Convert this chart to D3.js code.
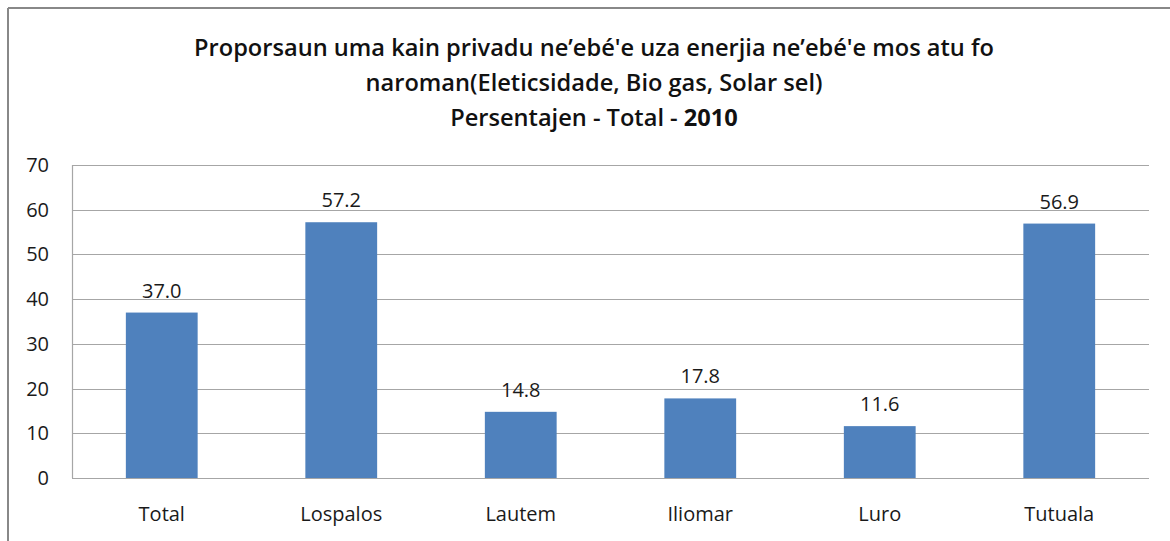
<!DOCTYPE html>
<html>
<head>
<meta charset="utf-8">
<script src="https://cdn.jsdelivr.net/npm/d3@7"></script>
<style>
  body { margin: 0; background: #fff; }
  text { font-family: "Open Sans", Lato, sans-serif; }
</style>
</head>
<body>
<svg id="chart"></svg>
<script>
/* data */
var districts = ["Total", "Lospalos", "Lautem", "Iliomar", "Luro", "Tutuala"];
var percentages = [37.0, 57.2, 14.8, 17.8, 11.6, 56.9];
var yTicks = [0, 10, 20, 30, 40, 50, 60, 70];
var titleLines = [
  "Proporsaun uma kain privadu ne\u2019ebé'e uza enerjia ne\u2019ebé'e mos atu fo",
  "naroman(Eleticsidade, Bio gas, Solar sel)"
];

var width = 1170, height = 541;
var margin = { top: 165, right: 21, bottom: 63, left: 72 };
var labelSize = "20px";

var svg = d3.select("#chart")
  .attr("width", width)
  .attr("height", height);

/* the frame: only top and left edge are visible */
svg.append("line")
  .attr("x1", 8).attr("x2", width).attr("y1", 8).attr("y2", 8)
  .attr("stroke", "#888").attr("stroke-width", 2);
svg.append("line")
  .attr("x1", 8).attr("x2", 8).attr("y1", 8).attr("y2", height)
  .attr("stroke", "#888").attr("stroke-width", 2);

/* title */
var title = svg.append("text")
  .attr("text-anchor", "middle")
  .attr("font-size", "20px")
  .attr("font-weight", "600")
  .attr("fill", "#111");

titleLines.forEach(function(line, i) {
  title.append("tspan")
    .attr("x", 594)
    .attr("y", 56 + i * 35)
    .text(line);
});
var last = title.append("tspan").attr("x", 594).attr("y", 126);
last.append("tspan").text("Persentajen - Total - ");
last.append("tspan").attr("font-weight", "bold").text("2010");

/* first title line is about 800px wide in the original, scale the font to that */
var firstW = title.select("tspan").node().getComputedTextLength();
title.attr("font-size", (20 * 800 / firstW).toFixed(2) + "px");

var g = svg.append("g")
  .attr("transform", "translate(" + margin.left + "," + margin.top + ")");

var plotW = width - margin.left - margin.right;
var plotH = height - margin.top - margin.bottom;

var x = d3.scaleBand()
  .domain(districts)
  .range([0, plotW])
  .padding(0);

var y = d3.scaleLinear()
  .domain([0, 70])
  .range([plotH, 0]);

/* gridlines */
g.selectAll(".grid")
  .data(yTicks)
  .enter()
  .append("line")
  .attr("class", "grid")
  .attr("x1", 0)
  .attr("x2", plotW)
  .attr("y1", function(d) { return Math.round(y(d)) + 0.5; })
  .attr("y2", function(d) { return Math.round(y(d)) + 0.5; })
  .attr("stroke", "#a6a6a6")
  .attr("stroke-width", 1.2);

g.append("line")
  .attr("x1", 0.5).attr("x2", 0.5)
  .attr("y1", 0).attr("y2", plotH)
  .attr("stroke", "#a6a6a6")
  .attr("stroke-width", 1.2);

/* y tick labels */
g.selectAll(".ytick")
  .data(yTicks)
  .enter()
  .append("text")
  .attr("class", "ytick")
  .attr("x", -23)
  .attr("y", function(d) { return y(d); })
  .attr("dy", "0.35em")
  .attr("text-anchor", "end")
  .attr("font-size", labelSize)
  .attr("fill", "#1a1a1a")
  .text(function(d) { return d; });

/* bars */
var barW = x.bandwidth() * 0.4;

g.selectAll(".bar")
  .data(percentages)
  .enter()
  .append("rect")
  .attr("class", "bar")
  .attr("x", function(d, i) { return x(districts[i]) + (x.bandwidth() - barW) / 2; })
  .attr("y", function(d) { return y(d); })
  .attr("width", barW)
  .attr("height", function(d) { return plotH - y(d); })
  .attr("fill", "#4f81bd");

/* value labels */
g.selectAll(".value")
  .data(percentages)
  .enter()
  .append("text")
  .attr("class", "value")
  .attr("x", function(d, i) { return x(districts[i]) + x.bandwidth() / 2; })
  .attr("y", function(d) { return y(d) - 15; })
  .attr("text-anchor", "middle")
  .attr("font-size", labelSize)
  .attr("fill", "#1a1a1a")
  .text(function(d) { return d.toFixed(1); });

/* category labels */
g.selectAll(".cat")
  .data(districts)
  .enter()
  .append("text")
  .attr("class", "cat")
  .attr("x", function(d) { return x(d) + x.bandwidth() / 2; })
  .attr("y", plotH + 43)
  .attr("text-anchor", "middle")
  .attr("font-size", labelSize)
  .attr("fill", "#1a1a1a")
  .text(function(d) { return d; });
</script>
</body>
</html>
